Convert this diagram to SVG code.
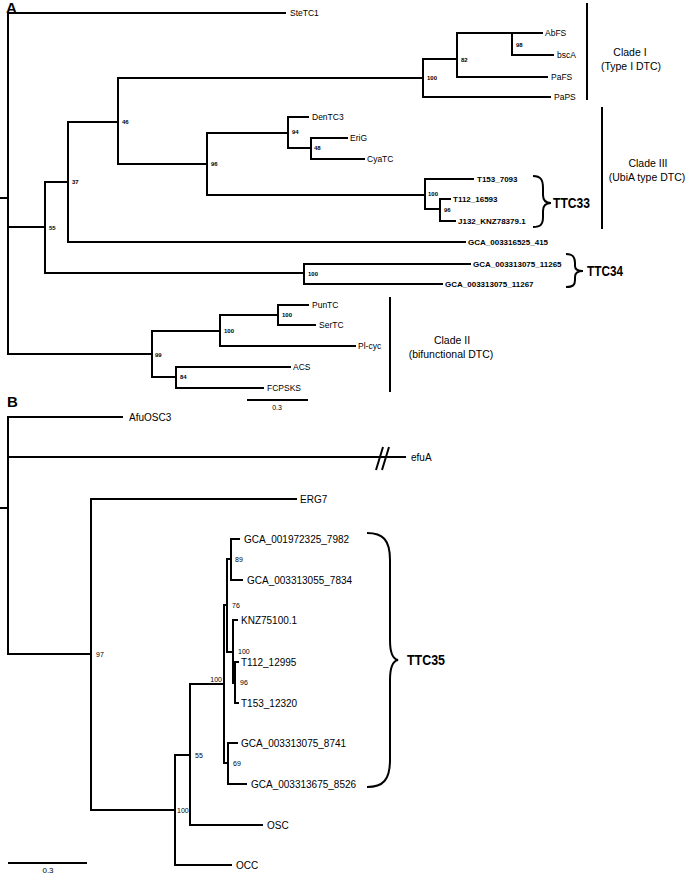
<svg xmlns="http://www.w3.org/2000/svg" width="689" height="875" viewBox="0 0 689 875">
<style>
.br{fill:none;stroke:#000;stroke-width:2;stroke-linecap:square;stroke-linejoin:miter}
.bc{fill:none;stroke:#000;stroke-width:2}
.t{font-family:"Liberation Sans",Arial,sans-serif;fill:#000}
.la{font-size:8.5px}
.lab{font-size:8px;font-weight:bold}
.bs{font-size:6px;font-weight:bold}
.lb{font-size:10px}
.bsb{font-size:7px}
.cl{font-size:10.5px;text-anchor:middle}
.ttc{font-size:14px;font-weight:bold}
.pn{font-size:15px;font-weight:bold}
</style>
<rect width="689" height="875" fill="#fff"/>
<g id="connectors">
<!-- Panel A -->
<path class="br" d="M8,13 V354 M1,198 H8 M8,13 H285"/>
<path class="br" d="M8,227 H45 M45,182 V273 M45,182 H68 M68,122 V242 M68,122 H118 M118,78 V164"/>
<path class="br" d="M118,78 H423 M423,59 V97 M423,59 H457 M457,33 V77 M457,33 H542 M512,33 V55 H553 M457,77 H547 M423,97 H550"/>
<path class="br" d="M118,164 H207 M207,133 V195 M207,133 H288 M288,117 V148 M288,117 H308 M288,148 H311 M311,138 V159 M311,138 H347 M311,159 H364"/>
<path class="br" d="M207,195 H425 M425,179 V209 M425,179 H473 M425,209 H440 M440,199 V221 M440,199 H450 M440,221 H455"/>
<path class="br" d="M68,242 H465 M45,273 H304 M304,264 V284 M304,264 H470 M304,284 H442"/>
<path class="br" d="M8,354 H152 M152,331 V377 M152,331 H220 M220,315 V346 M220,315 H278 M278,305 V325 M278,305 H308 M278,325 H315 M220,346 H355 M152,377 H176 M176,367 V388 M176,367 H290 M176,388 H263"/>
<path class="br" d="M248,400 H307"/>
<path class="bc" d="M587,3 V100 M602,107 V229 M390,297 V392"/>
<path class="bc" d="M533,176 C541,176 543,180 543,188 L543,195 C543,200 546,203 551,203 C546,203 543,206 543,211 L543,217 C543,224 541,227 533,227"/>
<path class="bc" d="M566,254 C573,254 575,257 575,263 L575,266 C575,270 578,271 583,271 C578,271 575,273 575,277 L575,280 C575,285 573,287 566,287"/>
<!-- Panel B -->
<path class="br" d="M8,417 V654 M1,508 H8 M8,417 H122 M8,457 H405"/>
<path class="bc" d="M376,470 L383,447 M382,470 L389,447"/>
<path class="br" d="M8,654 H91 M91,499 V810 M91,499 H296 M91,810 H175 M175,755 V865 M175,755 H190 M190,684 V825 M190,684 H224 M224,605 V763"/>
<path class="br" d="M224,605 H227 M227,559 V652 M227,559 H231 M231,539 V580 M231,539 H239 M231,580 H242 M227,652 H233 M233,620 V683 M233,620 H237 M233,683 H235 M235,662 V703 M235,662 H238 M235,703 H238"/>
<path class="br" d="M224,763 H228 M228,743 V784 M228,743 H237 M228,784 H246 M190,825 H262 M175,865 H231"/>
<path class="br" d="M9,863 H86"/>
<path class="bc" stroke-width="2.5" d="M367,533 C383,533 390,540 390,560 L390,640 C390,652 393,659 398,660 C393,661 390,668 390,680 L390,760 C390,780 383,787 367,787"/>
</g>
<g id="panelA">
<text class="t pn" x="6" y="13">A</text>
<g id="SteTC1"><text class="t la" x="290" y="16">SteTC1</text></g>
<g id="AbFS"><text class="t la" x="545" y="36">AbFS</text></g>
<g id="bscA"><text class="t la" x="557" y="58">bscA</text></g>
<g id="PaFS"><text class="t la" x="551" y="80">PaFS</text></g>
<g id="PaPS"><text class="t la" x="554" y="100">PaPS</text></g>
<g id="DenTC3"><text class="t la" x="312" y="120">DenTC3</text></g>
<g id="EriG"><text class="t la" x="350" y="141">EriG</text></g>
<g id="CyaTC"><text class="t la" x="367" y="162">CyaTC</text></g>
<g id="T153_7093"><text class="t lab" x="477" y="182">T153_7093</text></g>
<g id="T112_16593"><text class="t lab" x="453" y="202">T112_16593</text></g>
<g id="J132_KNZ78379"><text class="t lab" x="458" y="224">J132_KNZ78379.1</text></g>
<g id="GCA_003316525_415"><text class="t lab" x="468" y="245">GCA_003316525_415</text></g>
<g id="GCA_003313075_11265"><text class="t lab" x="473" y="267">GCA_003313075_11265</text></g>
<g id="GCA_003313075_11267"><text class="t lab" x="445" y="287">GCA_003313075_11267</text></g>
<g id="PunTC"><text class="t la" x="312" y="308">PunTC</text></g>
<g id="SerTC"><text class="t la" x="319" y="328">SerTC</text></g>
<g id="Pl-cyc"><text class="t la" x="358" y="349">Pl-cyc</text></g>
<g id="ACS"><text class="t la" x="293" y="370">ACS</text></g>
<g id="FCPSKS"><text class="t la" x="267" y="391">FCPSKS</text></g>
<text class="t" font-size="7" text-anchor="middle" x="277" y="410">0.3</text>
<g id="bootA">
<text class="t bs" x="122" y="124">46</text>
<text class="t bs" x="72" y="184">37</text>
<text class="t bs" x="49" y="230">55</text>
<text class="t bs" x="427" y="80">100</text>
<text class="t bs" x="461" y="62">82</text>
<text class="t bs" x="516" y="47">98</text>
<text class="t bs" x="292" y="134">94</text>
<text class="t bs" x="314" y="150">48</text>
<text class="t bs" x="211" y="166">96</text>
<text class="t bs" x="428" y="196">100</text>
<text class="t bs" x="444" y="212">96</text>
<text class="t bs" x="308" y="276">100</text>
<text class="t bs" x="224" y="333">100</text>
<text class="t bs" x="282" y="317">100</text>
<text class="t bs" x="155" y="357">99</text>
<text class="t bs" x="180" y="379">84</text>
</g>
<g id="cladeI"><text class="t cl" x="630" y="56">Clade I</text><text class="t cl" x="631" y="70">(Type I DTC)</text></g>
<g id="cladeIII"><text class="t cl" x="648" y="167">Clade III</text><text class="t cl" x="647" y="181">(UbiA type DTC)</text></g>
<g id="cladeII"><text class="t cl" x="452" y="344">Clade II</text><text class="t cl" x="451" y="358">(bifunctional DTC)</text></g>
<g id="TTC33"><text class="t ttc" x="553" y="208" textLength="37" lengthAdjust="spacingAndGlyphs">TTC33</text></g>
<g id="TTC34"><text class="t ttc" x="587" y="276" textLength="36" lengthAdjust="spacingAndGlyphs">TTC34</text></g>
</g>
<g id="panelB">
<text class="t pn" x="7" y="407">B</text>
<g id="AfuOSC3"><text class="t lb" x="129" y="421">AfuOSC3</text></g>
<g id="efuA"><text class="t lb" x="411" y="461">efuA</text></g>
<g id="ERG7"><text class="t lb" x="300" y="503">ERG7</text></g>
<g id="GCA_001972325_7982"><text class="t lb" x="244" y="543">GCA_001972325_7982</text></g>
<g id="GCA_003313055_7834"><text class="t lb" x="247" y="584">GCA_003313055_7834</text></g>
<g id="KNZ75100"><text class="t lb" x="241" y="624">KNZ75100.1</text></g>
<g id="T112_12995"><text class="t lb" x="241" y="666">T112_12995</text></g>
<g id="T153_12320"><text class="t lb" x="241" y="707">T153_12320</text></g>
<g id="GCA_003313075_8741"><text class="t lb" x="241" y="747">GCA_003313075_8741</text></g>
<g id="GCA_003313675_8526"><text class="t lb" x="251" y="788">GCA_003313675_8526</text></g>
<g id="OSC"><text class="t lb" x="267" y="829">OSC</text></g>
<g id="OCC"><text class="t lb" x="236" y="869">OCC</text></g>
<text class="t" font-size="8" text-anchor="middle" x="48" y="873">0.3</text>
<g id="bootB">
<text class="t bsb" x="96" y="657">97</text>
<text class="t bsb" x="177" y="813">100</text>
<text class="t bsb" x="195" y="758">55</text>
<text class="t bsb" text-anchor="end" x="222" y="682">100</text>
<text class="t bsb" x="235" y="562">89</text>
<text class="t bsb" x="232" y="608">76</text>
<text class="t bsb" x="238" y="654">100</text>
<text class="t bsb" x="240" y="685">96</text>
<text class="t bsb" x="233" y="766">69</text>
</g>
<g id="TTC35"><text class="t ttc" font-size="15" x="407" y="665" textLength="38" lengthAdjust="spacingAndGlyphs">TTC35</text></g>
</g>
</svg>
